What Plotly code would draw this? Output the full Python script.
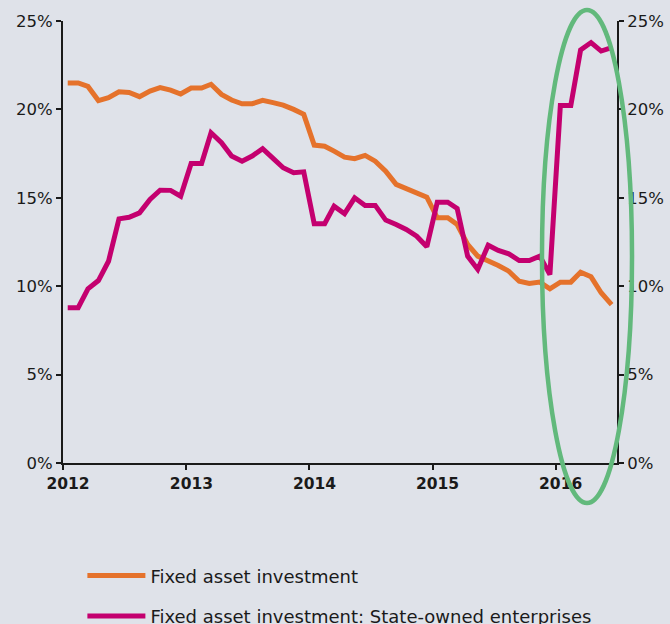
import plotly.graph_objects as go

# Monthly observations, Jan 2012 - Jun 2016 (year-on-year growth, %)
months = [f"{2012 + i // 12}-{i % 12 + 1:02d}-15" for i in range(54)]

fai_total = [
    21.5, 21.5, 21.3, 20.5, 20.66, 21.0, 20.96, 20.72, 21.04, 21.23, 21.09, 20.87,
    21.21, 21.21, 21.42, 20.85, 20.53, 20.32, 20.32, 20.51, 20.38, 20.24, 20.0, 19.72,
    17.98, 17.92, 17.64, 17.30, 17.21, 17.40, 17.07, 16.51, 15.76, 15.51, 15.29, 15.04,
    13.87, 13.87, 13.49, 12.36, 11.70, 11.45, 11.17, 10.85, 10.28, 10.15, 10.23, 9.85,
    10.23, 10.23, 10.79, 10.53, 9.63, 8.96,
]

fai_soe = [
    8.78, 8.78, 9.85, 10.32, 11.41, 13.81, 13.90, 14.15, 14.91, 15.43, 15.42, 15.09,
    16.94, 16.94, 18.68, 18.12, 17.36, 17.07, 17.36, 17.78, 17.23, 16.70, 16.42, 16.47,
    13.53, 13.53, 14.53, 14.10, 15.00, 14.57, 14.57, 13.74, 13.49, 13.21, 12.83, 12.23,
    14.75, 14.75, 14.40, 11.70, 10.95, 12.32, 12.02, 11.83, 11.45, 11.45, 11.70, 10.66,
    20.22, 20.22, 23.36, 23.78, 23.30, 23.49,
]

year_ticks = ["2012-01-01", "2013-01-01", "2014-01-01", "2015-01-01", "2016-01-01"]
year_labels = ["2012", "2013", "2014", "2015", "2016"]
pct_ticks = [0, 5, 10, 15, 20, 25]
pct_labels = ["0%", "5%", "10%", "15%", "20%", "25%"]

BG = "#dfe2e9"
INK = "#1a1a1a"
ORANGE = "#e5722b"
MAGENTA = "#c4006f"
GREEN = "#62b97c"
FONT = "DejaVu Sans"

fig = go.Figure()
fig.add_trace(go.Scatter(
    x=months, y=fai_total, mode="lines", name="Fixed asset investment",
    line=dict(color=ORANGE, width=5), legendgroup="a",
))
fig.add_trace(go.Scatter(
    x=months, y=fai_soe, mode="lines", name="Fixed asset investment: State-owned enterprises",
    line=dict(color=MAGENTA, width=5), legendgroup="b", yaxis="y2",
))

# highlight ellipse (paper coordinates so it is not clipped)
fig.add_shape(type="circle", xref="paper", yref="paper",
              x0=0.8646, x1=1.0271, y0=-0.0905, y1=1.0249,
              line=dict(color=GREEN, width=4.5), layer="above")

axis_common = dict(
    range=[0, 25], tickvals=pct_ticks, ticktext=pct_labels,
    showgrid=False, zeroline=False, showline=True, linecolor=INK, linewidth=2,
    ticks="outside", ticklen=5, tickwidth=2, tickcolor=INK,
    tickfont=dict(family=FONT, size=16.5, color=INK), fixedrange=True,
)

fig.update_layout(
    width=670, height=624,
    margin=dict(l=63, r=53, t=21, b=161, autoexpand=False),
    paper_bgcolor=BG, plot_bgcolor=BG,
    font=dict(family=FONT, color=INK),
    showlegend=True,
    legend=dict(
        x=0.035, y=-0.2135, xanchor="left", yanchor="top",
        bgcolor="rgba(0,0,0,0)", font=dict(family=FONT, size=18, color=INK),
        traceorder="grouped", tracegroupgap=14, itemwidth=58,
    ),
    xaxis=dict(
        type="date", range=["2012-01-01", "2016-07-01"],
        tickvals=year_ticks, ticktext=year_labels,
        showgrid=False, zeroline=False, showline=True, linecolor=INK, linewidth=2,
        ticks="outside", ticklen=5, tickwidth=2, tickcolor=INK,
        tickfont=dict(family=FONT, size=15.5, color=INK, weight="bold"),
        ticklabelshift=5, fixedrange=True,
    ),
    yaxis=dict(side="left", **axis_common),
    yaxis2=dict(side="right", overlaying="y", **axis_common),
)

fig.write_html("out.html", config={"displayModeBar": False},
               post_script="document.body.style.margin='0';")
